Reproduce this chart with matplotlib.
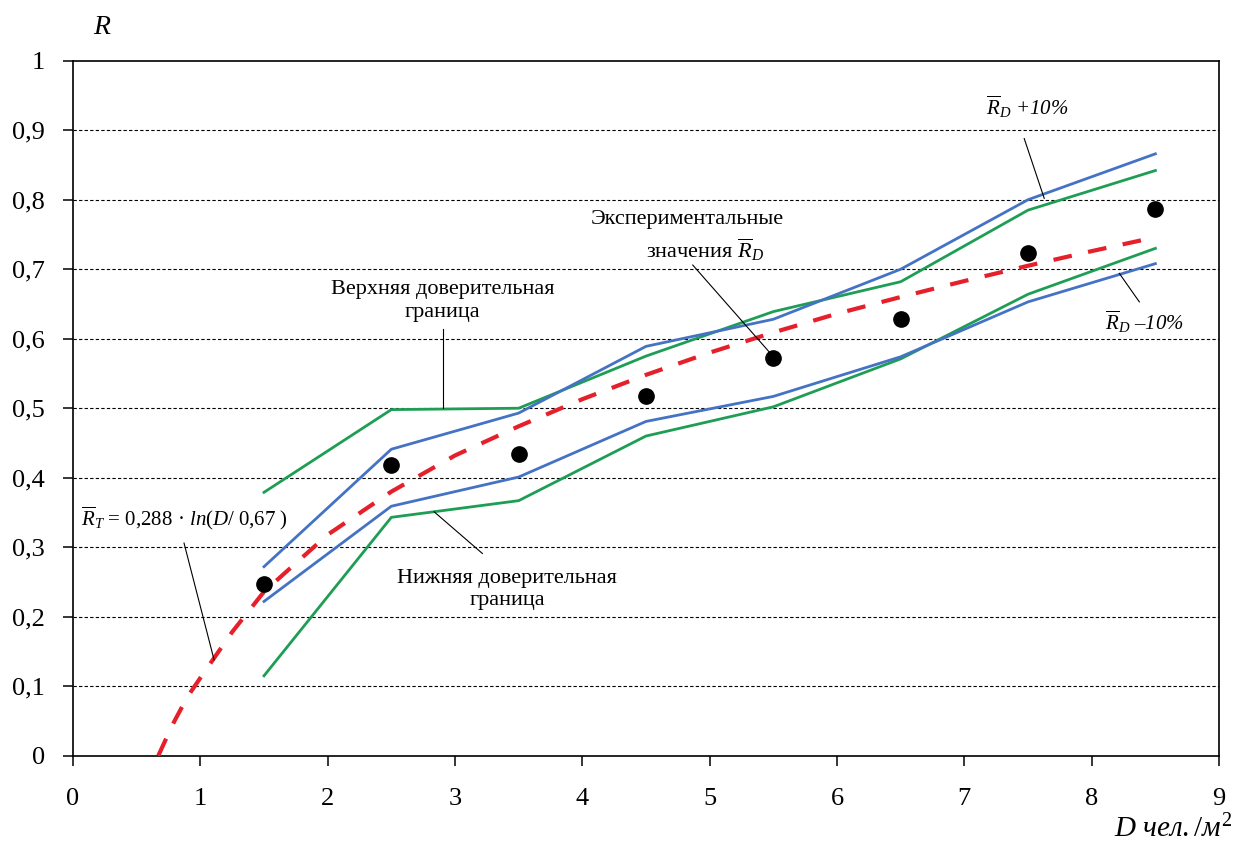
import matplotlib
matplotlib.use("Agg")
import matplotlib.pyplot as plt

plt.rcParams['font.family'] = ['Liberation Serif', 'DejaVu Serif']
plt.rcParams['mathtext.fontset'] = 'custom'
plt.rcParams['mathtext.rm'] = 'Liberation Serif'
plt.rcParams['mathtext.it'] = 'Liberation Serif:italic'

# Data
D = [1.5, 2.5, 3.5, 4.5, 5.5, 6.5, 7.5, 8.5]
R_exp = [0.247, 0.419, 0.434, 0.517, 0.572, 0.629, 0.724, 0.787]
R_plus10 = [0.272, 0.441, 0.493, 0.589, 0.628, 0.700, 0.800, 0.866]
R_minus10 = [0.222, 0.359, 0.401, 0.481, 0.517, 0.574, 0.653, 0.708]
upper_conf = [0.379, 0.498, 0.500, 0.575, 0.639, 0.682, 0.785, 0.842]
lower_conf = [0.115, 0.343, 0.367, 0.460, 0.502, 0.571, 0.664, 0.730]

D_theory = [0.67, 0.75, 0.8, 0.9, 1.0, 1.25, 1.5, 2.0, 2.5, 3.0, 3.5, 4.0,
            4.5, 5.0, 5.5, 6.0, 6.5, 7.0, 7.5, 8.0, 8.5]
R_theory = [0.0, 0.032, 0.051, 0.085, 0.112, 0.178, 0.236, 0.318, 0.380,
            0.432, 0.474, 0.513, 0.548, 0.580, 0.609, 0.636, 0.660, 0.683,
            0.705, 0.726, 0.746]

x_ticks = [0, 1, 2, 3, 4, 5, 6, 7, 8, 9]
y_ticks = [0, 0.1, 0.2, 0.3, 0.4, 0.5, 0.6, 0.7, 0.8, 0.9, 1.0]
y_tick_labels = ['0', '0,1', '0,2', '0,3', '0,4', '0,5', '0,6', '0,7', '0,8', '0,9', '1']

fig = plt.figure(figsize=(12.39, 8.55), dpi=100)
ax = fig.add_axes([0.0589, 0.1161, 0.9250, 0.8129])

blue = '#4472C4'
green = '#1E9E55'
red = '#E5202A'

for yv in y_ticks[1:-1]:
    ax.axhline(yv, color='black', lw=0.8, ls=(0, (3, 2)), zorder=1)

ax.plot(D, upper_conf, color=green, lw=2.0, zorder=2)
ax.plot(D, lower_conf, color=green, lw=2.0, zorder=2)
ax.plot(D, R_plus10, color=blue, lw=2.0, zorder=3)
ax.plot(D, R_minus10, color=blue, lw=2.0, zorder=3)
ax.plot(D_theory, R_theory, color=red, lw=3.0, ls=(0, (4.5, 4)), zorder=4,
        dash_capstyle='butt')
ax.plot(D, R_exp, 'o', color='black', ms=11, zorder=5)

ax.set_xlim(0, 9)
ax.set_ylim(0, 1)
ax.set_xticks(x_ticks)
ax.set_xticklabels([str(v) for v in x_ticks])
ax.set_yticks(y_ticks)
ax.set_yticklabels(y_tick_labels)
ax.tick_params(axis='both', direction='out', length=7, width=1.1,
               labelsize=19, colors='black')
ax.tick_params(axis='x', pad=16)
ax.tick_params(axis='y', pad=13)
for s in ax.spines.values():
    s.set_linewidth(1.2)
    s.set_color('black')

# Axis labels
fig.text(102 / 1239, 1 - 27 / 855, 'R', fontsize=20, style='italic',
         ha='center', va='center')
fig.text(1232 / 1239, 1 - 837 / 855, r'$D\ \mathit{чел./м}^2$', fontsize=21,
         ha='right', va='baseline')

fs = 16
# Annotations
ax.text(2.90, 0.654, 'Верхняя доверительная\nграница', fontsize=fs,
        ha='center', va='center', linespacing=1.25)
ax.plot([2.906, 2.906], [0.614, 0.5], color='black', lw=0.8, zorder=6)

ax.text(4.823, 0.771, 'Экспериментальные', fontsize=fs,
        ha='center', va='center')
ax.text(4.965, 0.728, 'значения ' + r'$\overline{R}_D$', fontsize=fs,
        ha='center', va='center')
ax.plot([4.867, 5.467], [0.706, 0.581], color='black', lw=0.8, zorder=6)

ax.text(7.494, 0.933, r'$\overline{R}_D$ +10%', fontsize=15, style='italic',
        ha='center', va='center')
ax.plot([7.47, 7.627], [0.888, 0.802], color='black', lw=0.8, zorder=6)

ax.text(8.413, 0.624, r'$\overline{R}_D$ –10%', fontsize=15, style='italic',
        ha='center', va='center')
ax.plot([8.217, 8.374], [0.694, 0.653], color='black', lw=0.8, zorder=6)

ax.text(0.063, 0.342,
        r'$\overline{R}_T$ = 0,288 · $\mathit{ln(D/\ 0{,}67\ )}$',
        fontsize=15, ha='left', va='center')
ax.plot([0.872, 1.108], [0.306, 0.138], color='black', lw=0.8, zorder=6)

ax.text(3.41, 0.239, 'Нижняя доверительная\nграница', fontsize=fs,
        ha='center', va='center', linespacing=1.25)
ax.plot([2.836, 3.215], [0.351, 0.291], color='black', lw=0.8, zorder=6)

fig.savefig('out.png', dpi=100)
